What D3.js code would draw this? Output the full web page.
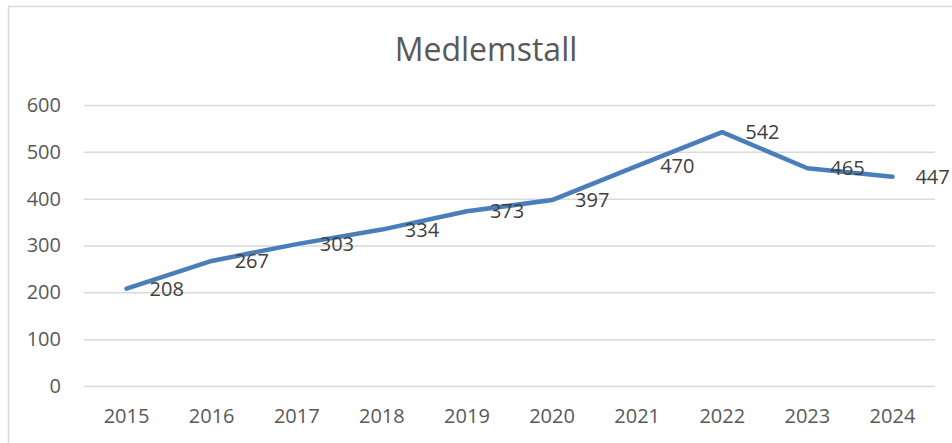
<!DOCTYPE html>
<html>
<head>
<meta charset="utf-8">
<script src="https://cdn.jsdelivr.net/npm/d3@7"></script>
<style>
  html, body { margin: 0; padding: 0; background: #fff; }
  svg { display: block; font-family: "Open Sans", sans-serif; }
</style>
</head>
<body>
<svg id="chart" width="952" height="443"></svg>
<script>
const years = ["2015","2016","2017","2018","2019","2020","2021","2022","2023","2024"];
const members = [208, 267, 303, 334, 373, 397, 470, 542, 465, 447];
const yTicks = [0, 100, 200, 300, 400, 500, 600];
const chartTitle = "Medlemstall";

(function () {
const svg = d3.select("#chart");
const W = 952, H = 443;
const mLeft = 84, mRight = 935, mTop = 105, mBottom = 386;

// outer chart border
svg.append("rect")
  .attr("x", 8.5).attr("y", 6.5)
  .attr("width", W + 20).attr("height", H + 20)
  .attr("fill", "#fff").attr("stroke", "#d9d9d9").attr("stroke-width", 1.5);

const x = d3.scaleBand().domain(years).range([mLeft, mRight]).padding(0);
const y = d3.scaleLinear().domain([0, 600]).range([mBottom, mTop]);

// gridlines + y labels
const yAxis = d3.axisLeft(y).tickValues(yTicks).tickSize(-(mRight - mLeft)).tickPadding(23);
const gy = svg.append("g").attr("transform", `translate(${mLeft},0)`).call(yAxis);
gy.select(".domain").remove();
gy.selectAll(".tick line").attr("stroke", "#d9d9d9").attr("stroke-width", 1.5);
gy.selectAll(".tick text")
  .attr("fill", "#595959").attr("font-size", 20)
  .attr("font-family", "Open Sans, sans-serif");

// x axis labels
const xAxis = d3.axisBottom(x).tickSize(0).tickPadding(0);
const gx = svg.append("g").attr("transform", `translate(0,${mBottom})`).call(xAxis);
gx.select(".domain").remove();
gx.selectAll(".tick text")
  .attr("fill", "#595959").attr("font-size", 20)
  .attr("font-family", "Open Sans, sans-serif")
  .attr("dy", null).attr("y", 37);

// title
svg.append("text")
  .attr("x", 486).attr("y", 61)
  .attr("text-anchor", "middle")
  .attr("fill", "#595959").attr("font-size", 32)
  .text(chartTitle);

// line
const data = years.map((yr, i) => ({ yr, v: members[i] }));
const line = d3.line()
  .x(d => x(d.yr) + x.bandwidth() / 2)
  .y(d => y(d.v));
svg.append("path")
  .datum(data)
  .attr("d", line)
  .attr("fill", "none")
  .attr("stroke", "#4a7ebb")
  .attr("stroke-width", 4.5)
  .attr("stroke-linecap", "round")
  .attr("stroke-linejoin", "round");

// data labels
svg.append("g").selectAll("text")
  .data(data).join("text")
  .attr("x", d => x(d.yr) + x.bandwidth() / 2 + 23)
  .attr("y", d => y(d.v))
  .attr("dy", "0.35em")
  .attr("fill", "#404040").attr("font-size", 20)
  .attr("font-family", "Open Sans, sans-serif")
  .text(d => d.v);
})();
</script>
</body>
</html>
